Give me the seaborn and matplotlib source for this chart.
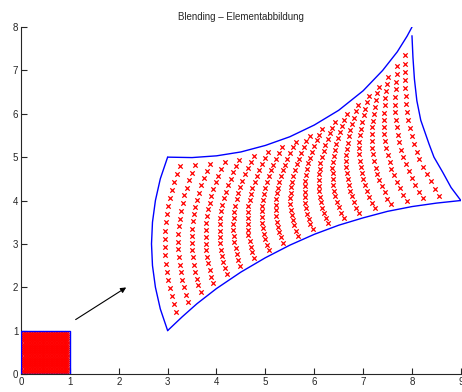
import numpy as np
import pandas as pd
import matplotlib
matplotlib.use("Agg")
import matplotlib.pyplot as plt
import seaborn as sns

sns.set_style("ticks", {"xtick.direction": "in", "ytick.direction": "in"})
plt.rcParams["font.family"] = ["Liberation Sans", "DejaVu Sans"]

# reference element (unit square)
square_x = [0, 1, 1, 0, 0]
square_y = [0, 0, 1, 1, 0]

# boundary curves of the mapped element
bottom_x = [3.0, 3.3, 3.6, 4.0, 4.5, 5.0, 5.5, 6.0, 6.5, 7.0, 7.5, 8.0, 8.5, 9.0]
bottom_y = [1.0, 1.32, 1.62, 1.97, 2.35, 2.68, 2.97, 3.22, 3.43, 3.60, 3.75, 3.86, 3.94, 4.0]
top_x = [3.0, 3.5, 4.0, 4.5, 5.0, 5.5, 6.0, 6.5, 7.0, 7.4, 7.7, 7.9, 8.0]
top_y = [5.0, 4.99, 5.03, 5.12, 5.27, 5.47, 5.74, 6.08, 6.53, 7.0, 7.43, 7.79, 8.0]
left_x = [3.0, 2.85, 2.75, 2.69, 2.67, 2.69, 2.75, 2.85, 3.0]
left_y = [1.0, 1.5, 2.0, 2.5, 3.0, 3.5, 4.0, 4.5, 5.0]
right_x = [9.0, 8.92, 8.8, 8.63, 8.45, 8.35, 8.18, 8.1, 8.05, 8.02, 8.0]
right_y = [4.0, 4.12, 4.3, 4.65, 5.0, 5.3, 5.85, 6.3, 6.8, 7.3, 7.8]

arrow_from = (1.07, 1.22)
arrow_to = (2.2, 2.03)

n_grid = 20  # grid steps in the reference element


def along(xs, ys, t):
    # position on a boundary curve at relative arc length t
    xs, ys = np.asarray(xs), np.asarray(ys)
    s = np.concatenate([[0], np.cumsum(np.hypot(np.diff(xs), np.diff(ys)))])
    s = s / s[-1]
    return np.interp(t, s, xs), np.interp(t, s, ys)


# local coordinates (interior grid points)
g = np.linspace(0, 1, n_grid + 1)[1:-1]
U, V = np.meshgrid(g, g)
U, V = U.ravel(), V.ravel()

bx, by = along(bottom_x, bottom_y, U)
tx, ty = along(top_x, top_y, U)
lx, ly = along(left_x, left_y, V)
rx, ry = along(right_x, right_y, V)

# transfinite (Coons) blending of the four boundary curves
X = ((1 - V) * bx + V * tx + (1 - U) * lx + U * rx
     - ((1 - U) * (1 - V) * bottom_x[0] + U * (1 - V) * bottom_x[-1]
        + (1 - U) * V * top_x[0] + U * V * top_x[-1]))
Y = ((1 - V) * by + V * ty + (1 - U) * ly + U * ry
     - ((1 - U) * (1 - V) * bottom_y[0] + U * (1 - V) * bottom_y[-1]
        + (1 - U) * V * top_y[0] + U * V * top_y[-1]))

ref = pd.DataFrame({"x": U, "y": V})
mapped = pd.DataFrame({"x": X, "y": Y})

fig = plt.figure(figsize=(4.62, 3.92), dpi=100)
ax = fig.add_axes([0.0455, 0.046, 0.952, 0.885])

sns.scatterplot(data=ref, x="x", y="y", marker="x", color="red", s=10,
                linewidth=0.9, ax=ax, zorder=2)
sns.scatterplot(data=mapped, x="x", y="y", marker="x", color="red", s=10,
                linewidth=0.9, ax=ax, zorder=2)

for cx, cy in [(square_x, square_y), (bottom_x, bottom_y), (top_x, top_y),
               (left_x, left_y), (right_x, right_y)]:
    sns.lineplot(x=cx, y=cy, sort=False, estimator=None, color="blue",
                 linewidth=1.0, ax=ax, zorder=3)

ax.annotate("", xy=arrow_to, xytext=arrow_from,
            arrowprops=dict(arrowstyle="-|>", color="black", lw=0.8,
                            mutation_scale=8))

ax.set_xlim(0, 9)
ax.set_ylim(0, 8)
ax.set_xticks(range(0, 10))
ax.set_yticks(range(0, 9))
ax.set_xlabel("")
ax.set_ylabel("")
ax.tick_params(labelsize=7, length=4, width=0.8, pad=2)
sns.despine(ax=ax)
ax.set_title("Blending \u2013 Elementabbildung", fontsize=7, pad=5)

fig.savefig("out.png", dpi=100)
